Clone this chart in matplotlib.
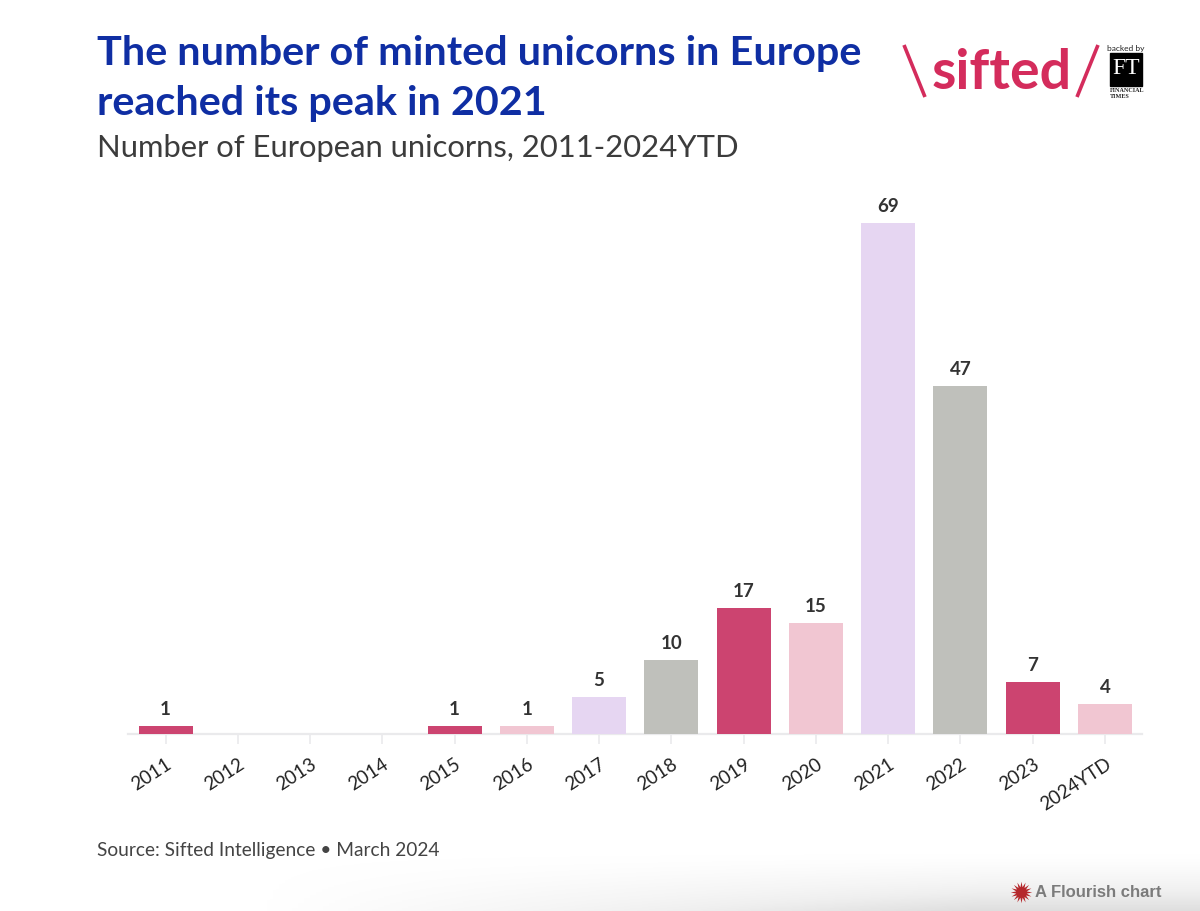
import numpy as np
import matplotlib
matplotlib.use('Agg')
import matplotlib.pyplot as plt

years = ['2011', '2012', '2013', '2014', '2015', '2016', '2017', '2018', '2019', '2020', '2021', '2022', '2023', '2024YTD']
unicorns = [1, 0, 0, 0, 1, 1, 5, 10, 17, 15, 69, 47, 7, 4]
bar_colors = ['#cc4470', 'none', 'none', 'none', '#cc4470', '#f1c6d2', '#e6d6f2',
              '#bfc0bb', '#cc4470', '#f1c6d2', '#e6d6f2', '#bfc0bb', '#cc4470', '#f1c6d2']

W, H = 1200, 912
plt.rcParams['font.family'] = ['Lato', 'DejaVu Sans']
fig = plt.figure(figsize=(W / 100, H / 100), dpi=100, facecolor='white')

# full-figure layer in pixel coordinates for title, logo and footer
bg = fig.add_axes([0, 0, 1, 1])
bg.set_xlim(0, W)
bg.set_ylim(H, 0)
bg.axis('off')

# grey fade at the bottom
fade = (np.linspace(0, 1, 60) ** 1.4)[:, None] * np.clip(np.linspace(-0.35, 1.3, 200), 0, 1)[None, :]
bg.imshow(fade, extent=(0, W, H, 852), cmap='Greys', vmin=0, vmax=4.5, aspect='auto', zorder=0)
bg.set_xlim(0, W)
bg.set_ylim(H, 0)

bg.text(97, 54, 'The number of minted unicorns in Europe', fontsize=29.8, fontweight='bold', color='#0f2ea3', va='center')
bg.text(97, 104, 'reached its peak in 2021', fontsize=29.8, fontweight='bold', color='#0f2ea3', va='center')
bg.text(97, 148, 'Number of European unicorns, 2011-2024YTD', fontsize=22.3, color='#3c3c3c', va='center')
bg.text(97, 851, 'Source: Sifted Intelligence • March 2024', fontsize=13.8, color='#444444', va='center')

# logo
logo = '#d42c5c'
bg.plot([904, 925], [46, 98], color=logo, lw=2.6, solid_capstyle='butt')
bg.plot([1098, 1077], [46, 98], color=logo, lw=2.6, solid_capstyle='butt')
bg.text(1002, 73, 'sifted', fontsize=40, fontweight='bold', color=logo, ha='center', va='center')
bg.text(1126, 49, 'backed by', fontsize=6, color='#222222', ha='center', va='center')
bg.add_patch(plt.Rectangle((1110, 54), 32, 33, color='black', zorder=2))
bg.text(1126, 69, 'FT', fontsize=17, color='white', ha='center', va='center', family='Liberation Serif', zorder=3)
bg.text(1110, 91, 'FINANCIAL', fontsize=4.4, color='#222222', va='center', family='Liberation Serif', fontweight='bold')
bg.text(1110, 97, 'TIMES', fontsize=4.4, color='#222222', va='center', family='Liberation Serif', fontweight='bold')

# flourish badge
bg.scatter([1021], [893], marker=(16, 1, 0), s=240, color='#b5282c', linewidths=0, zorder=3)
bg.text(1035, 893, 'A Flourish chart', fontsize=12, fontweight='bold', color='#7b7b7b', va='center',
        family='Liberation Sans', zorder=3)

# chart
x0, x1, y_top, y_base = 128, 1142, 190, 734.6
ax = fig.add_axes([x0 / W, 1 - y_base / H, (x1 - x0) / W, (y_base - y_top) / H])
ax.patch.set_alpha(0)
step = (1105 - 165.5) / 13
ax.set_xlim(-(165.5 - x0) / step, 13 + (x1 - 1105) / step)
ax.set_ylim(0, (y_base - y_top) / 7.4)

pos = np.arange(len(years))
ax.bar(pos, unicorns, width=54 / step, color=bar_colors, linewidth=0, zorder=3)
for p, v in zip(pos, unicorns):
    if v > 0:
        ax.annotate(str(v), (p, v), xytext=(0, 9), textcoords='offset pixels', ha='center', va='bottom',
                    fontsize=13.5, fontweight='bold', color='#333333')

for s in ['top', 'left', 'right']:
    ax.spines[s].set_visible(False)
ax.spines['bottom'].set_color('#eaeaec')
ax.spines['bottom'].set_linewidth(1.6)
ax.set_yticks([])
ax.set_xticks(pos)
ax.set_xticklabels(years, rotation=33, ha='right', rotation_mode='anchor', fontsize=13.5, color='#222222')
ax.tick_params(axis='x', length=7, width=1.2, color='#eaeaec', pad=8)

fig.savefig('out.png', dpi=100)
